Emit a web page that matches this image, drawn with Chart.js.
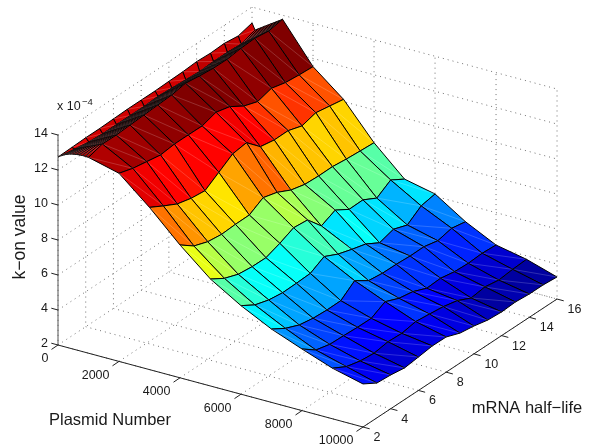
<!DOCTYPE html>
<html><head><meta charset="utf-8">
<style>html,body{margin:0;padding:0;background:#fff}canvas{display:block}</style>
<script src="https://cdn.jsdelivr.net/npm/chart.js@4"></script></head>
<body><canvas id="c" width="590" height="448"></canvas>
<script>
// Grid axes
const plasmidNumber = [0,100,200,300,400,500,600,700,800,900,1000,2000,3000,4000,5000,6000,7000,8000,9000,10000];
const halfLife = [2,3,4,5,6,7,8,9,10,11,12,13,14,15,16];
// k-on values (x 10^-4), one list per plasmid number
const kon0 = [12.74,12.77,12.80,12.80,12.83,12.86,12.86,12.86,12.89,12.91,12.97,12.93,12.97,12.87,13.09];
const kon100 = [12.86,12.72,12.60,12.55,12.55,12.55,12.55,12.60,12.55,12.50,12.45,12.50,12.50,12.45,12.73];
const kon200 = [12.96,12.80,12.69,12.65,12.66,12.66,12.67,12.73,12.67,12.62,12.57,12.63,12.64,12.58,12.85];
const kon300 = [13.04,12.88,12.78,12.75,12.77,12.78,12.79,12.86,12.80,12.74,12.70,12.76,12.77,12.71,12.96];
const kon400 = [13.10,12.96,12.87,12.86,12.87,12.89,12.91,12.99,12.92,12.86,12.82,12.89,12.91,12.84,13.08];
const kon500 = [13.14,13.04,12.96,12.96,12.98,13.00,13.03,13.12,13.04,12.98,12.95,13.02,13.05,12.97,13.19];
const kon600 = [13.17,13.11,13.06,13.06,13.09,13.12,13.14,13.25,13.17,13.10,13.07,13.16,13.18,13.10,13.31];
const kon700 = [13.19,13.19,13.15,13.16,13.20,13.23,13.26,13.38,13.29,13.22,13.20,13.29,13.32,13.23,13.42];
const kon800 = [13.20,13.27,13.24,13.27,13.31,13.34,13.38,13.51,13.41,13.34,13.32,13.42,13.46,13.36,13.54];
const kon900 = [13.20,13.35,13.33,13.37,13.41,13.46,13.50,13.64,13.54,13.46,13.45,13.55,13.59,13.49,13.65];
const kon1000 = [13.19,13.43,13.42,13.47,13.52,13.57,13.62,13.77,13.66,13.58,13.57,13.68,13.73,13.62,13.77];
const kon2000 = [12.75,12.51,12.37,12.23,12.33,12.33,12.32,12.58,12.38,11.89,11.62,11.86,11.66,11.58,11.53];
const kon3000 = [11.27,10.83,10.42,10.22,10.13,10.66,11.19,11.31,10.56,10.42,10.43,10.18,10.41,10.27,10.13];
const kon4000 = [9.59,9.01,8.73,8.63,8.68,8.69,9.16,8.94,8.55,8.35,8.31,8.32,8.23,8.17,8.12];
const kon5000 = [8.11,7.63,7.34,7.25,7.24,7.54,7.91,7.83,6.97,7.35,6.87,6.89,6.47,6.98,6.51];
const kon6000 = [7.06,6.58,6.34,6.23,6.25,6.29,6.73,6.35,6.10,5.88,5.43,5.68,5.40,5.97,6.13];
const kon7000 = [6.19,5.71,5.38,5.24,5.19,5.20,5.82,5.30,5.20,5.19,5.14,5.15,4.97,5.16,5.01];
const kon8000 = [5.52,4.94,4.74,4.71,4.67,4.66,5.09,4.76,4.62,4.29,4.34,4.19,4.15,4.20,4.15];
const kon9000 = [4.89,4.46,4.26,4.18,4.31,4.27,4.42,4.33,4.23,4.05,3.68,3.79,3.66,3.75,3.80];
const kon10000 = [4.46,3.99,3.93,3.81,3.91,4.02,4.01,3.71,3.59,3.41,3.35,3.40,3.33,3.33,3.26];
const konRows = [kon0,kon100,kon200,kon300,kon400,kon500,kon600,kon700,kon800,kon900,kon1000,kon2000,kon3000,kon4000,kon5000,kon6000,kon7000,kon8000,kon9000,kon10000];
// Tick labels
const xTicks = [0,2000,4000,6000,8000,10000];
const yTicks = [2,4,6,8,10,12,14,16];
const zTicks = [2,4,6,8,10,12,14];
const xTitle = 'Plasmid Number', yTitle = 'mRNA half\u2212life', zTitle = 'k\u2212on value';

// Orthographic view of the 3D box
const view = {ox:58, oy:345, xx:0.0305, xy:0.0082, yx:13.86, yy:-9.14, zy:-17.5};
const X0=0, X1=10000, Y0=2, Y1=16, Z0=2, Z1=14;
function proj(x,y,z){
  return {x: view.ox + view.xx*x + view.yx*(y-Y0),
          y: view.oy + view.xy*x + view.yy*(y-Y0) + view.zy*(z-Z0)};
}
// Jet colormap, 64 levels
function jet(t){
  t = Math.floor(Math.max(0,Math.min(0.9999,t))*64)/63;
  const f = v => Math.round(255*Math.max(0,Math.min(1,v)));
  return `rgb(${f(1.5-Math.abs(4*t-3))},${f(1.5-Math.abs(4*t-2))},${f(1.5-Math.abs(4*t-1))})`;
}
const zFlat = konRows.flat();
const zMin = Math.min(...zFlat), zMax = Math.max(...zFlat);

const layers = [];
function line(pts,color,width,dash){
  layers.push({type:'scatter',data:pts,showLine:true,borderColor:color,borderWidth:width,borderDash:dash||[],
    pointRadius:0,tension:0,fill:false,borderCapStyle:'butt'});
}
const GRID='#707070', DOT=[1,4];
// Floor and back-wall grid
xTicks.forEach(x=>{ if(x>X0) line([proj(x,Y0,Z0),proj(x,Y1,Z0),proj(x,Y1,Z1)],GRID,1,DOT); });
yTicks.forEach(y=>{ line([proj(X1,y,Z0),proj(X0,y,Z0),proj(X0,y,Z1)],GRID,1,DOT); });
zTicks.forEach(z=>{ line([proj(X0,Y0,z),proj(X0,Y1,z),proj(X1,Y1,z)],GRID,1,DOT); });
// Box axes
line([proj(X0,Y0,Z0),proj(X0,Y0,Z1)],'#555',1);
line([proj(X0,Y0,Z0),proj(X1,Y0,Z0)],'#222',1);
line([proj(X1,Y0,Z0),proj(X1,Y1,Z0)],'#222',1);
xTicks.forEach(x=>{const p=proj(x,Y0,Z0);line([p,{x:p.x-6.5,y:p.y+4.4}],'#222',1);});
yTicks.forEach(y=>{const p=proj(X1,y,Z0);line([p,{x:p.x+6.7,y:p.y+1.8}],'#222',1);});
zTicks.forEach(z=>{const p=proj(X0,Y0,z);line([p,{x:p.x-6.7,y:p.y-1.8}],'#222',1);});
// Surface, back to front
for(let i=0;i<plasmidNumber.length-1;i++){
  for(let j=halfLife.length-2;j>=0;j--){
    const a=proj(plasmidNumber[i],halfLife[j],konRows[i][j]),
          b=proj(plasmidNumber[i],halfLife[j+1],konRows[i][j+1]),
          c=proj(plasmidNumber[i+1],halfLife[j+1],konRows[i+1][j+1]),
          d=proj(plasmidNumber[i+1],halfLife[j],konRows[i+1][j]);
    const col=jet((konRows[i][j]-zMin)/(zMax-zMin));
    layers.push({type:'scatter',data:[a,b,c,d,a],showLine:true,borderColor:'#000',borderWidth:1,
      backgroundColor:col,fill:'shape',pointRadius:0,tension:0,borderJoinStyle:'round'});
    line([a,c],'rgba(255,255,255,0.3)',0.6);
  }
}
const textPlugin={id:'labels3d',afterDraw(ch){
  const ctx=ch.ctx, sx=ch.scales.x, sy=ch.scales.y;
  const put=(s,dataPt,dx,dy,align,size,rot)=>{
    ctx.save();
    ctx.translate(sx.getPixelForValue(dataPt.x)+dx,sy.getPixelForValue(dataPt.y)+dy);
    if(rot)ctx.rotate(rot);
    ctx.font=size+'px "Liberation Sans", Arial, sans-serif';
    ctx.fillStyle='#1a1a1a';ctx.textAlign=align;ctx.textBaseline='middle';
    ctx.fillText(s,0,0);ctx.restore();
  };
  xTicks.forEach(x=>put(String(x),proj(x,Y0,Z0),-9.5,14,'right',12.5));
  yTicks.forEach(y=>put(String(y),proj(X1,y,Z0),10.5,10.5,'left',12.5));
  zTicks.forEach(z=>put(String(z),proj(X0,Y0,z),-10,-1.5,'right',12.5));
  put(xTitle,{x:110,y:420},0,0,'center',16.5);
  put(yTitle,{x:527,y:408},0,0,'center',16.5);
  put(zTitle,{x:20,y:237},0,0,'center',17.5,-Math.PI/2);
  put('x 10',{x:57,y:107},0,0,'left',12.5);
  put('\u22124',{x:82,y:102},0,0,'left',9.5);
}};
new Chart(document.getElementById('c'),{
  type:'scatter',
  data:{datasets:layers.reverse()},
  plugins:[textPlugin],
  options:{responsive:false,animation:false,events:[],
    layout:{padding:0},
    plugins:{legend:{display:false},tooltip:{enabled:false},title:{display:false}},
    scales:{
      x:{type:'linear',min:0,max:590,display:false},
      y:{type:'linear',min:0,max:448,reverse:true,display:false}
    }}
});
</script></body></html>
